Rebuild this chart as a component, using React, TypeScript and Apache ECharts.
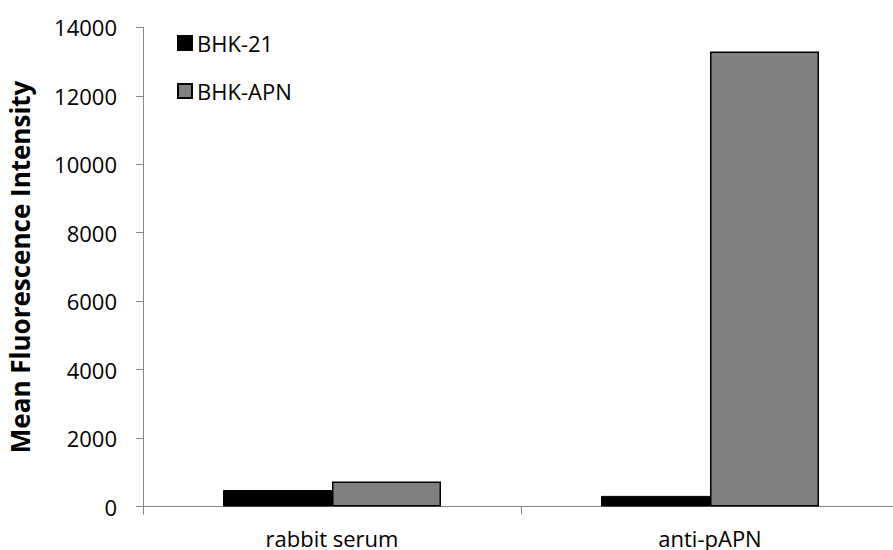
import React, { useEffect, useRef } from "react";
import * as echarts from "echarts";

const categories = ["rabbit serum", "anti-pAPN"];
const bhk21 = [480, 310];
const bhkApn = [730, 13290];
const yTicks = { min: 0, max: 14000, interval: 2000 };

export default function App() {
  const ref = useRef<HTMLDivElement>(null);
  useEffect(() => {
    const chart = echarts.init(ref.current!, undefined, { renderer: "svg" });
    const font = "'Open Sans', 'Liberation Sans', sans-serif";
    chart.setOption({
      animation: false,
      backgroundColor: "#ffffff",
      textStyle: { fontFamily: font },
      grid: {
        left: 143,
        top: 27.3,
        height: 479.2,
        width: 756,
        containLabel: false,
        outerBoundsMode: "none",
      },
      legend: {
        orient: "vertical",
        left: 172,
        top: 27,
        itemWidth: 14,
        itemHeight: 14,
        itemGap: 26,
        icon: "rect",
        textStyle: { fontFamily: font, fontSize: 22, color: "#000" },
        data: ["BHK-21", "BHK-APN"],
      },
      xAxis: {
        type: "category",
        data: categories,
        axisLine: { lineStyle: { color: "#868686", width: 1 } },
        axisTick: { show: true, length: 8, lineStyle: { color: "#868686" } },
        axisLabel: { fontFamily: font, fontSize: 22, color: "#000", margin: 20 },
      },
      yAxis: {
        type: "value",
        min: yTicks.min,
        max: yTicks.max,
        interval: yTicks.interval,
        name: "Mean Fluorescence Intensity",
        nameLocation: "middle",
        nameRotate: 90,
        nameGap: 110,
        nameTextStyle: { fontFamily: font, fontSize: 26, fontWeight: "bold", color: "#000" },
        axisLine: { show: true, lineStyle: { color: "#868686", width: 1 } },
        axisTick: { show: true, length: 7, inside: false, lineStyle: { color: "#868686" } },
        splitLine: { show: false },
        axisLabel: {
          fontFamily: font,
          fontSize: 22,
          color: "#000",
          margin: 26,
          formatter: (v: number) => String(v),
        },
      },
      series: [
        {
          name: "BHK-21",
          type: "bar",
          data: bhk21,
          barWidth: 109,
          barGap: "0%",
          itemStyle: { color: "#000000", borderColor: "#000000", borderWidth: 1 },
        },
        {
          name: "BHK-APN",
          type: "bar",
          data: bhkApn,
          barWidth: 109,
          barGap: "0%",
          itemStyle: { color: "#808080", borderColor: "#000000", borderWidth: 1.5 },
        },
      ],
    });
    return () => chart.dispose();
  }, []);
  return <div ref={ref} style={{ width: 893, height: 550, position: "absolute", left: 0, top: 0 }} />;
}
